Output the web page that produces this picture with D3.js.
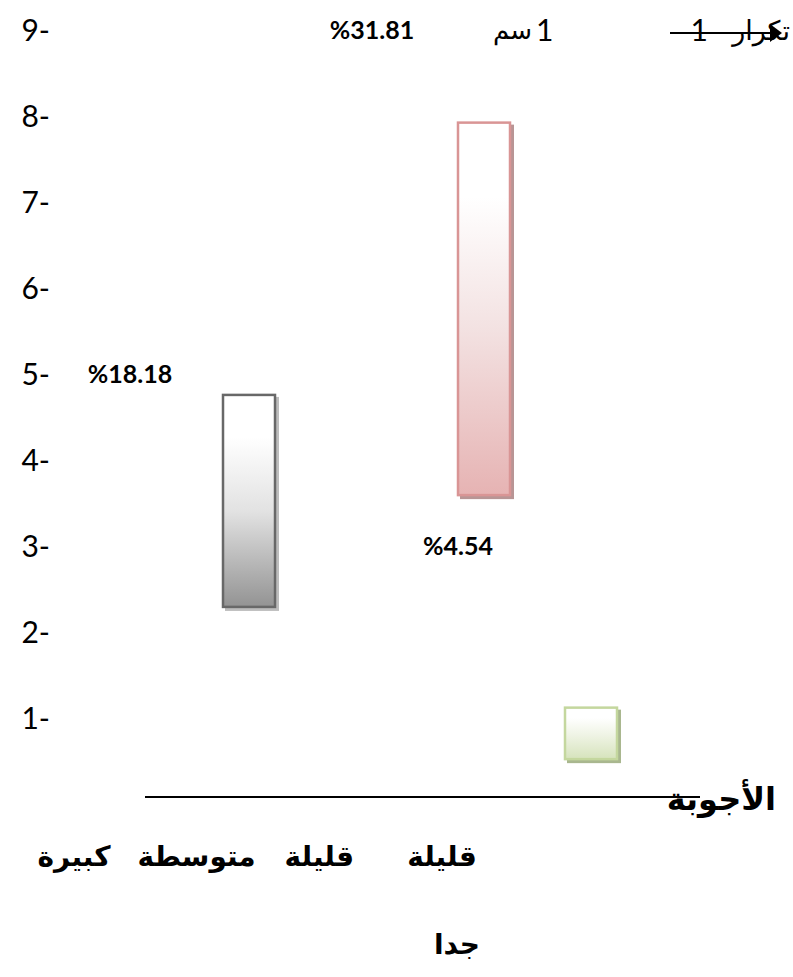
<!DOCTYPE html>
<html>
<head>
<meta charset="utf-8">
<script src="https://cdn.jsdelivr.net/npm/d3@7"></script>
<style>
  html, body { margin: 0; padding: 0; background: #fff; }
  svg { display: block; }
</style>
</head>
<body>
<svg id="chart" width="793" height="977"></svg>
<script>
// Answer categories (x labels)
const categories = ["كبيرة", "متوسطة", "قليلة", "قليلة جدا"];

// Bars: frequency counts, their percentage labels and the axis value where each bar starts
const barKeys = ["b1", "b2", "b3"];
const counts = [4, 7, 1];
const percents = [18.18, 31.81, 4.54];
const barStart = [2.28, 3.58, 0.51];

// Frequency axis ticks
const ticks = [1, 2, 3, 4, 5, 6, 7, 8, 9];

// Axis titles / scale note
const yTitle = "تكرار";
const yTitleNum = "1";
const scaleNum = "1";
const scaleUnit = "سم";
const xTitle = "الأجوبة";

const svg = d3.select("#chart");
const defs = svg.append("defs");

// Frequency axis
const y = d3.scaleLinear().domain([1, 9]).range([718, 30]);
// Bar length per counted answer
const barLen = d3.scaleLinear().domain([0, 1]).range([0, 53.5]);

// Horizontal slots for the bars and their labels
const barX = d3.scaleOrdinal().domain(barKeys).range([222, 457, 564]);
const barW = 54;
const pctX = d3.scaleOrdinal().domain(barKeys).range([130, 372, 458]);
const pctY = d3.scaleOrdinal().domain(barKeys).range([5, 9, 3]);
const catX = d3.scalePoint().domain(categories).range([74, 442]);

const arabic = "'DejaVu Sans', sans-serif";
const latin = "Lato, 'Open Sans', sans-serif";

const styles = [
  { top: "#ffffff", mid: "#e2e2e2", bottom: "#939393", stroke: "#686868", shadow: "#bdbdbd" },
  { top: "#ffffff", mid: "#f3e2e2", bottom: "#e6b3b3", stroke: "#d99595", shadow: "#b89595" },
  { top: "#ffffff", mid: "#eef3e3", bottom: "#d6e3bc", stroke: "#c4d79e", shadow: "#a9b78f" }
];
styles.forEach((s, i) => {
  const g = defs.append("linearGradient")
    .attr("id", "grad" + i).attr("x1", 0).attr("y1", 0).attr("x2", 0).attr("y2", 1);
  g.append("stop").attr("offset", "0%").attr("stop-color", s.top);
  g.append("stop").attr("offset", "20%").attr("stop-color", s.top);
  g.append("stop").attr("offset", "55%").attr("stop-color", s.mid);
  g.append("stop").attr("offset", "100%").attr("stop-color", s.bottom);
});

// Tick labels along the left edge
svg.append("g").selectAll("text").data(ticks).join("text")
  .attr("x", 50)
  .attr("y", d => y(d))
  .attr("dy", "0.36em")
  .attr("text-anchor", "end")
  .attr("font-family", latin)
  .attr("font-size", 30)
  .attr("fill", "#000")
  .text(d => d + "-");

// Bars with a soft offset shadow
const bars = barKeys.map((k, i) => ({ key: k, count: counts[i], pct: percents[i], start: barStart[i], i }));
const barG = svg.append("g");
bars.forEach(d => {
  const bottom = y(d.start);
  const h = barLen(d.count);
  const s = styles[d.i];
  barG.append("rect")
    .attr("x", barX(d.key) + 3).attr("y", bottom - h + 3)
    .attr("width", barW).attr("height", h)
    .attr("fill", s.shadow);
  barG.append("rect")
    .attr("x", barX(d.key) + 1).attr("y", bottom - h + 1)
    .attr("width", barW - 2).attr("height", h - 2)
    .attr("fill", `url(#grad${d.i})`)
    .attr("stroke", s.stroke).attr("stroke-width", 2.5);
});

// Percentage labels
svg.append("g").selectAll("text").data(bars).join("text")
  .attr("x", d => pctX(d.key))
  .attr("y", d => y(pctY(d.key)))
  .attr("dy", "0.36em")
  .attr("text-anchor", "middle")
  .attr("font-family", latin)
  .attr("font-weight", "bold")
  .attr("font-size", 25)
  .text(d => "%" + d.pct.toFixed(2));

// Scale note: 1 cm (unit on the left, number on the right)
svg.append("text")
  .attr("x", 532).attr("y", y(9)).attr("dy", "0.36em")
  .attr("text-anchor", "end")
  .attr("font-family", arabic)
  .attr("font-size", 26)
  .text(scaleUnit);
svg.append("text")
  .attr("x", 536).attr("y", y(9)).attr("dy", "0.36em")
  .attr("text-anchor", "start")
  .attr("font-family", latin)
  .attr("font-size", 30)
  .text(scaleNum);

// Vertical-axis title with its arrow
svg.append("text")
  .attr("x", 790).attr("y", y(9)).attr("dy", "0.36em")
  .attr("text-anchor", "end")
  .attr("font-family", arabic)
  .attr("font-size", 27)
  .text(yTitle);
svg.append("text")
  .attr("x", 708).attr("y", y(9)).attr("dy", "0.36em")
  .attr("text-anchor", "end")
  .attr("font-family", latin)
  .attr("font-size", 30)
  .text(yTitleNum);
svg.append("line")
  .attr("x1", 670).attr("x2", 772).attr("y1", y(9) + 3).attr("y2", y(9) + 3)
  .attr("stroke", "#000").attr("stroke-width", 2);
svg.append("path")
  .attr("d", `M770,${y(9) - 6} L782,${y(9) + 3} L770,${y(9) + 12} Z`)
  .attr("fill", "#000");

// Horizontal axis line and title
svg.append("line")
  .attr("x1", 145).attr("x2", 700).attr("y1", 797).attr("y2", 797)
  .attr("stroke", "#000").attr("stroke-width", 2);
svg.append("text")
  .attr("x", 776).attr("y", 810)
  .attr("text-anchor", "end")
  .attr("font-family", arabic)
  .attr("font-weight", "bold")
  .attr("font-size", 32)
  .text(xTitle);

// Category labels (second word wraps to the next line)
const catG = svg.append("g")
  .attr("font-family", arabic)
  .attr("font-weight", "bold")
  .attr("font-size", 28)
  .attr("text-anchor", "middle");
categories.forEach(c => {
  const words = c.split(" ");
  words.forEach((w, j) => {
    catG.append("text")
      .attr("x", catX(c) + (j > 0 ? 15 : 0))
      .attr("y", 866 + j * 88)
      .text(w);
  });
});
</script>
</body>
</html>
